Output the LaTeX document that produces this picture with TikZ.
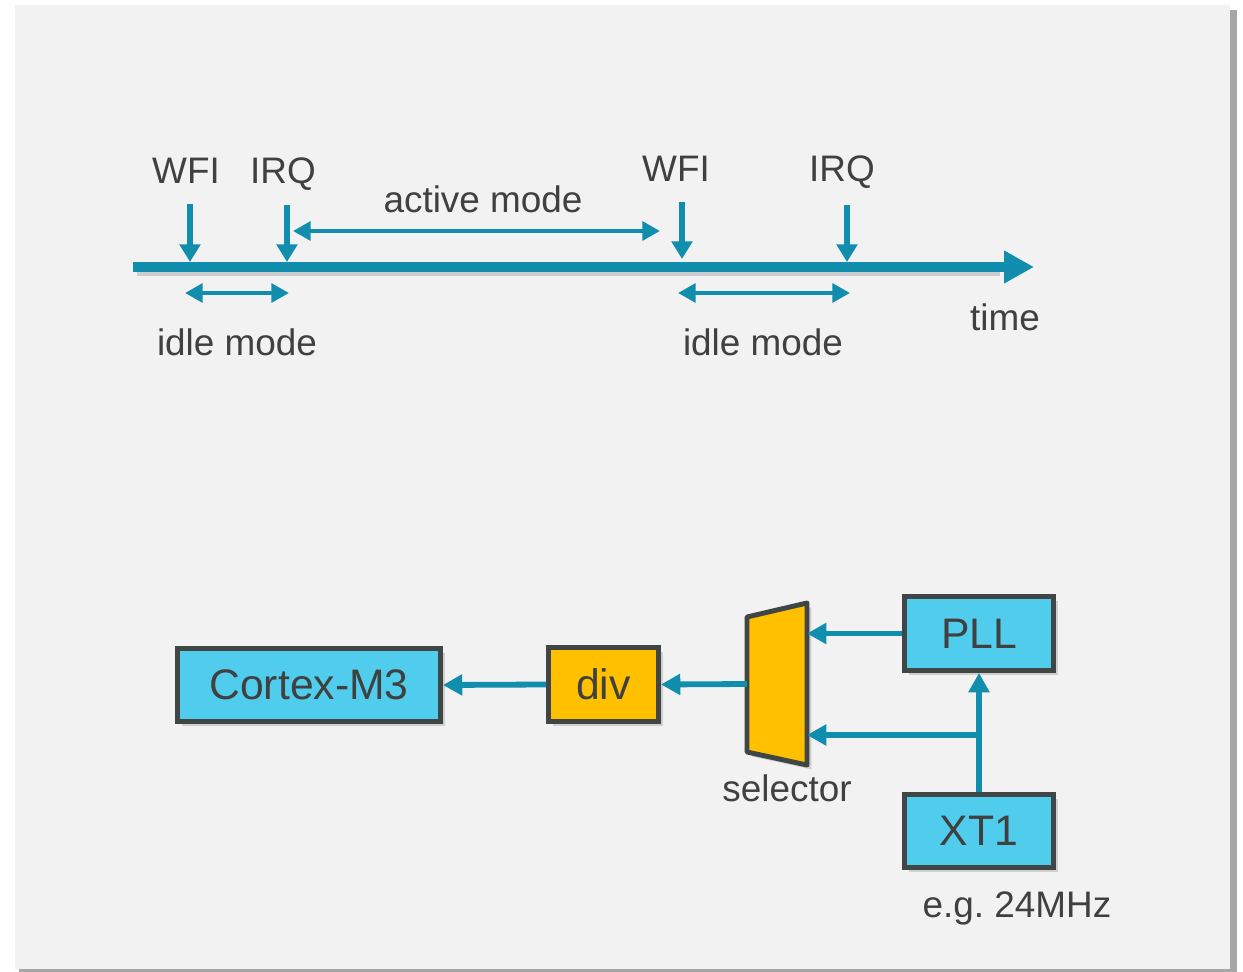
\documentclass[tikz,border=0pt]{standalone}
\usepackage{fontspec}
\setmainfont{Liberation Sans}
\usepackage{tikz}
\usepackage{xcolor}
\usetikzlibrary{arrows.meta,calc,positioning,shadows}
\definecolor{panelgray}{HTML}{F2F2F2}
\definecolor{linkblue}{HTML}{118EAD}
\definecolor{boxcyan}{HTML}{50CDED}
\definecolor{boxorange}{HTML}{FFC000}
\definecolor{edgegray}{HTML}{404545}
\definecolor{txtgray}{HTML}{404040}
\frenchspacing
\tikzset{%
	label/.style    = {text=txtgray, font=\fontsize{21}{25}\selectfont, inner sep=0pt, text height=15.1pt, text depth=0pt},
	block/.style    = {draw=edgegray, line width=2.8pt, text=txtgray, font=\fontsize{24.3}{29}\selectfont, drop shadow={shadow xshift=2.5pt, shadow yshift=-2.5pt, opacity=.3}},
	timeline/.style = {linkblue, line width=6pt, -{Triangle[length=17pt,width=17.5pt]}},
	tick/.style     = {linkblue, line width=3.6pt, -{Triangle[length=10pt,width=11.5pt]}},
	span/.style     = {linkblue, line width=2.8pt, {Triangle[length=10pt,width=10.5pt]}-{Triangle[length=10pt,width=10.5pt]}},
	conn/.style     = {linkblue, line width=3.3pt, -{Triangle[length=11pt,width=11.5pt]}},
}
\begin{document}
\begin{tikzpicture}[x=0.02cm,y=-0.02cm]
	\useasboundingbox (0,0) rectangle (1243,972);
	\fill[black!35] (19,10) rectangle (1237,973);  % panel shadow
	\fill[panelgray] (15,5) rectangle (1230,969);  % panel

	\begin{scope}
	% time axis
	\coordinate (t0) at (133,267);
	\coordinate (tEnd) at (1034,267);
	\draw[black, opacity=.15, line width=6pt] (137,271) -- (1000,271);
	\draw[timeline] (t0) -- (tEnd);
	\node[label] (time) at (1005,317) {time};
	% events
	\node[label] (wfiA) at (186,170) {WFI};
	\node[label] (irqA) at (283,170) {IRQ};
	\node[label] (wfiB) at (676,168) {WFI};
	\node[label] (irqB) at (842,168) {IRQ};
	\coordinate (wfiAtop) at (190,204);  \coordinate (wfiAbot) at (190,262);
	\coordinate (irqAtop) at (287,205);  \coordinate (irqAbot) at (287,262);
	\coordinate (wfiBtop) at (682,202);  \coordinate (wfiBbot) at (682,259);
	\coordinate (irqBtop) at (847,205);  \coordinate (irqBbot) at (847,262);
	\draw[tick] (wfiAtop) -- (wfiAbot);
	\draw[tick] (irqAtop) -- (irqAbot);
	\draw[tick] (wfiBtop) -- (wfiBbot);
	\draw[tick] (irqBtop) -- (irqBbot);
	% modes
	\node[label] (active) at (483,199) {active mode};
	\coordinate (actL) at (293,231);  \coordinate (actR) at (660,231);
	\draw[span] (actL) -- (actR);
	\coordinate (idleAL) at (185,293);  \coordinate (idleAR) at (289,293);
	\draw[span] (idleAL) -- (idleAR);
	\node[label] (idleA) at (237,342) {idle mode};
	\coordinate (idleBL) at (678,293);  \coordinate (idleBR) at (850,293);
	\draw[span] (idleBL) -- (idleBR);
	\node[label] (idleB) at (763,342) {idle mode};
	\end{scope}

	\begin{scope}
	% clock tree
	\node[block, fill=boxcyan, minimum width=5.26cm, minimum height=1.46cm] (cortex) at (309,685) {Cortex-M3};
	\node[block, fill=boxorange, minimum width=2.2cm, minimum height=1.48cm] (div) at (603.5,684.5) {div};
	\node[block, fill=boxcyan, minimum width=2.98cm, minimum height=1.48cm] (pll) at (979,633.5) {PLL};
	\node[block, fill=boxcyan, minimum width=2.98cm, minimum height=1.46cm] (xt) at (979,831) {XT1};
	\filldraw[fill=boxorange, draw=edgegray, line width=2.8pt, line join=round, drop shadow={shadow xshift=2.5pt, shadow yshift=-2.5pt, opacity=.3}] (747,617) -- (807,603) -- (807,765) -- (747,752) -- cycle;  % selector
	\coordinate (selOut) at (747,684);
	\coordinate (selInA) at (807,633.5);
	\coordinate (selInB) at (807,735);
	\coordinate (split) at (979,735);
	\node[label] (sel) at (787,788) {selector};
	\node[label] (freq) at (1017,904) {e.g. 24MHz};
	\draw[conn] (div.west) -- (cortex.east);
	\draw[conn] (selOut) -- (div.east);
	\draw[conn] (pll.west) -- (selInA);
	\draw[conn] (xt.north) -- (pll.south);
	\draw[conn] (split) -- (selInB);
	\end{scope}
\end{tikzpicture}
\end{document}
